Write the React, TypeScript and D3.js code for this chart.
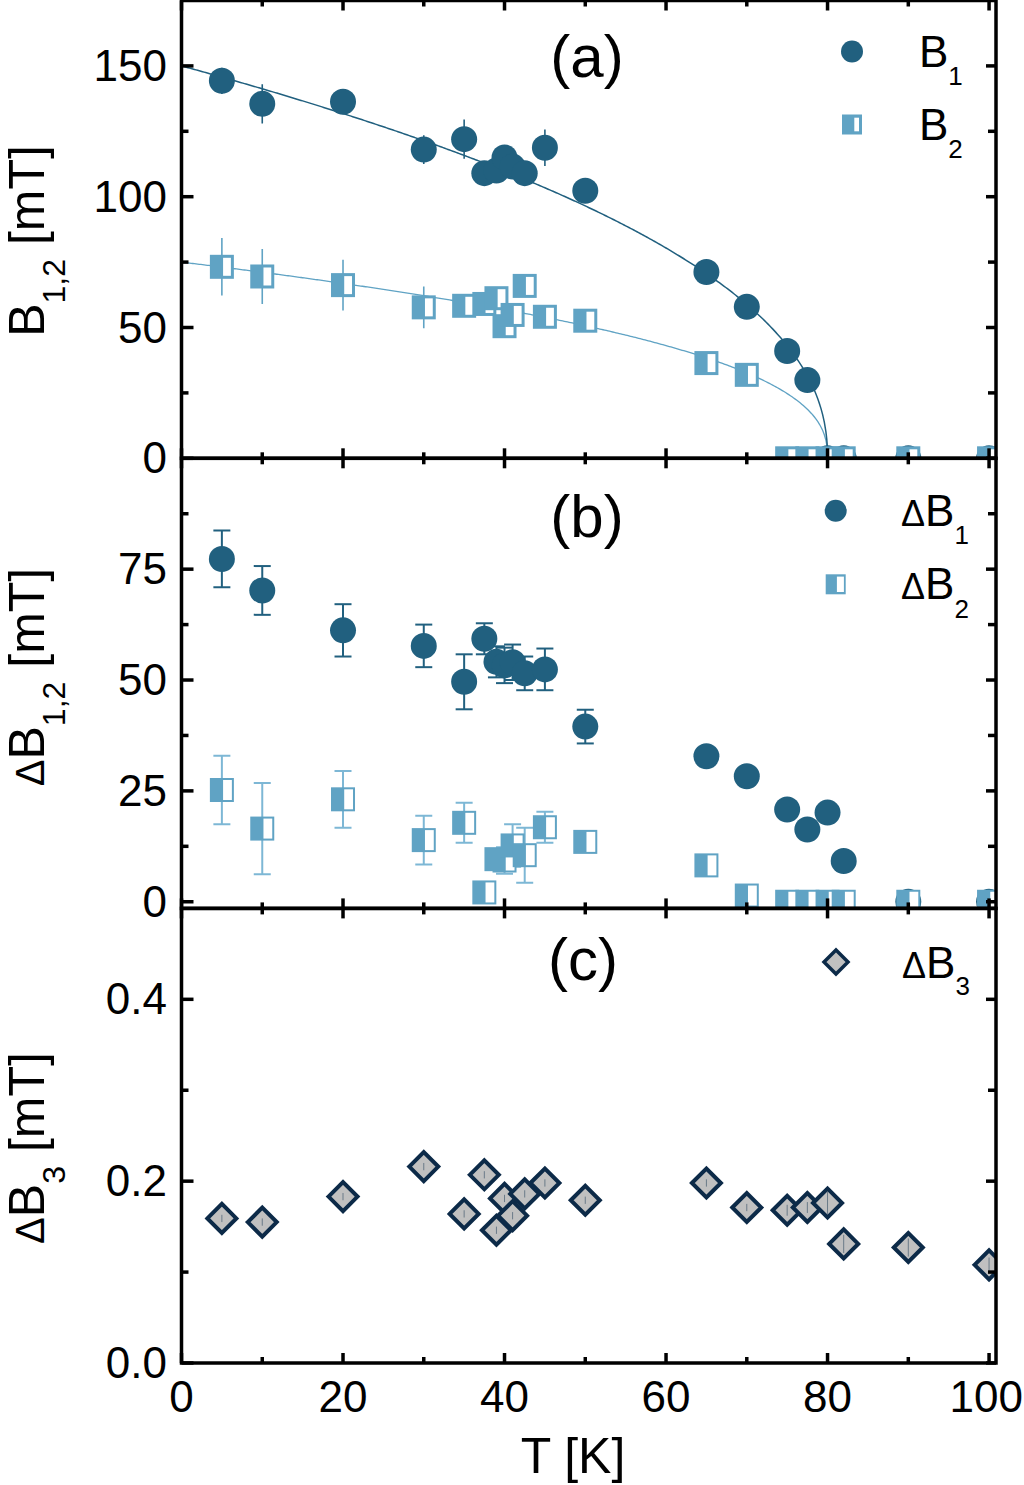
import React from 'react';
import * as d3 from 'd3';

// ---------- data ----------
const T = [5, 10, 20, 30, 35, 37.5, 39, 40, 41, 42.5, 45, 50, 65, 70, 75, 77.5, 80, 82, 90, 100];
const B1 = [144.3, 135.5, 136.3, 118, 122, 109, 110, 115, 111.5, 109, 118.7, 102.3, 71.2, 57.9, 41, 29.9, 0, 0, 0, 0];
const B1_ERR = [5, 7.5, 4, 5.5, 7.5, 4, 4, 4, 4, 4, 7, 4, 3, 3, 3, 3, 0, 0, 0, 0];
const B2 = [73.2, 69.5, 66.2, 57.7, 58.3, 59, 61.2, 50.5, 54.8, 65.9, 54.1, 52.6, 36.4, 31.9, 0, 0, 0, 0, 0, 0];
const B2_ERR = [11, 10.5, 9.7, 8, 4, 4, 4, 4, 4, 4, 4, 4, 3, 3, 0, 0, 0, 0, 0, 0];
const DB1 = [77.3, 70.2, 61.2, 57.7, 49.6, 59.3, 54.1, 53.3, 54, 51.5, 52.4, 39.5, 32.8, 28.3, 20.8, 16.3, 20.1, 9.2, 0, 0];
const DB1_ERR = [6.4, 5.5, 5.9, 4.8, 6.2, 3.5, 3.5, 4, 4, 3.8, 4.7, 3.8, 1, 1, 1, 1, 1, 1, 0, 0];
const DB2 = [25.2, 16.5, 23.1, 13.9, 17.8, 2.1, 9.6, 9.3, 12.7, 10.5, 16.8, 13.5, 8.2, 1.4, 0, 0, 0, 0, 0, 0];
const DB2_ERR = [7.7, 10.3, 6.4, 5.5, 4.5, 1, 2, 3, 4.8, 6.2, 3.5, 2, 1, 1, 0, 0, 0, 0, 0, 0];
const DB3 = [0.159, 0.155, 0.183, 0.216, 0.164, 0.207, 0.146, 0.181, 0.162, 0.186, 0.198, 0.179, 0.198, 0.171, 0.168, 0.171, 0.176, 0.131, 0.127, 0.108];
const DB3_ERR = [0.004, 0.004, 0.004, 0.004, 0.004, 0.004, 0.004, 0.004, 0.004, 0.004, 0.004, 0.004, 0.004, 0.004, 0.006, 0.006, 0.012, 0.01, 0.01, 0.008];

// fit parameters: [B(0), Tc, alpha, beta]  B = B0 (1 - (T/Tc)^alpha)^beta
const FIT_B1 = [150, 80, 1, 0.45];
const FIT_B2 = [75, 80, 1, 0.4];

const X_MAJOR = [0, 20, 40, 60, 80, 100];
const X_MINOR = [10, 30, 50, 70, 90];

const DARK = '#21607f';
const LIGHT = '#60a3c4';
const LIGHT_ERR = '#7db7d5';
const DIAM_STROKE = '#0c2a48';
const DIAM_FILL = '#c0c0c0';
const FONT = '"Liberation Sans", Arial, Helvetica, sans-serif';

const X0 = 181.5;
const X1 = 996;
const x = d3.scaleLinear().domain([0, 100.86]).range([X0, X1]);

const yA = d3.scaleLinear().domain([0, 175]).range([458.3, 0.5]);
const yB = d3.scaleLinear().domain([-1.5, 100]).range([908.4, 458.3]);
const yC = d3.scaleLinear().domain([0, 0.5]).range([1363, 908.4]);

const panels = [
  { id: 'a', y: yA, major: [0, 50, 100, 150], minor: [25, 75, 125], fmt: (d: number) => String(d) },
  { id: 'b', y: yB, major: [0, 25, 50, 75], minor: [12.5, 37.5, 62.5, 87.5], fmt: (d: number) => String(d) },
  { id: 'c', y: yC, major: [0, 0.2, 0.4], minor: [0.1, 0.3], fmt: d3.format('.1f') },
];

function fitCurve(p: number[]) {
  const [b0, tc, a, b] = p;
  const ts = d3.range(0, tc - 0.2, 0.2).concat([tc - 0.2, tc - 0.1, tc - 0.05, tc - 0.02, tc - 0.005, tc]);
  return ts.map((t) => [t, b0 * Math.pow(Math.max(0, 1 - Math.pow(t / tc, a)), b)] as [number, number]);
}

function HalfSquare({ cx, cy, s, inset }: { cx: number; cy: number; s: number; inset: number }) {
  const h = s / 2;
  return (
    <g>
      <rect x={cx - h} y={cy - h} width={s} height={s} fill={LIGHT} />
      <rect x={cx + 1.2} y={cy - h + inset} width={h - inset - 1.2} height={s - 2 * inset} fill="#fff" />
    </g>
  );
}

function Frame({ p }: { p: any }) {
  const [yb, yt] = p.y.range();
  const lw = 3.5;
  const els: any[] = [];
  X_MAJOR.forEach((v, i) => {
    const xx = x(v);
    els.push(<line key={'xb' + i} x1={xx} x2={xx} y1={yb} y2={yb - 10} />);
    els.push(<line key={'xt' + i} x1={xx} x2={xx} y1={yt} y2={yt + 10} />);
  });
  X_MINOR.forEach((v, i) => {
    const xx = x(v);
    els.push(<line key={'xbm' + i} x1={xx} x2={xx} y1={yb} y2={yb - 6} />);
    els.push(<line key={'xtm' + i} x1={xx} x2={xx} y1={yt} y2={yt + 6} />);
  });
  p.major.forEach((v: number, i: number) => {
    const yy = p.y(v);
    els.push(<line key={'yl' + i} x1={X0} x2={X0 + 12} y1={yy} y2={yy} />);
    els.push(<line key={'yr' + i} x1={X1} x2={X1 - 10} y1={yy} y2={yy} />);
  });
  p.minor.forEach((v: number, i: number) => {
    const yy = p.y(v);
    els.push(<line key={'ylm' + i} x1={X0} x2={X0 + 7} y1={yy} y2={yy} />);
    els.push(<line key={'yrm' + i} x1={X1} x2={X1 - 8} y1={yy} y2={yy} />);
  });
  return (
    <g stroke="#000" strokeWidth={lw} fill="none">
      {els}
      <rect x={X0} y={yt} width={X1 - X0} height={yb - yt} />
    </g>
  );
}

function ErrBars({ ys, errs, yScale, color, cap, width }: any) {
  return (
    <g stroke={color} strokeWidth={width} fill="none">
      {T.map((t, i) => {
        if (!errs[i]) return null;
        const xx = x(t);
        const y1 = yScale(ys[i] - errs[i]);
        const y2 = yScale(ys[i] + errs[i]);
        return (
          <g key={i}>
            <line x1={xx} x2={xx} y1={y1} y2={y2} />
            {cap ? <line x1={xx - cap} x2={xx + cap} y1={y1} y2={y1} /> : null}
            {cap ? <line x1={xx - cap} x2={xx + cap} y1={y2} y2={y2} /> : null}
          </g>
        );
      })}
    </g>
  );
}

export default function App() {
  const lineA = d3
    .line<[number, number]>()
    .x((d) => x(d[0]))
    .y((d) => yA(d[1]));

  const clipRect = (id: string, ys: any) => {
    const [yb, yt] = ys.range();
    return (
      <clipPath id={'clip-' + id} key={id}>
        <rect x={X0} y={yt} width={X1 - X0} height={yb - yt} />
      </clipPath>
    );
  };

  const tickFont = 44;

  return (
    <svg
      width={1024}
      height={1485}
      style={{ position: 'absolute', left: 0, top: 0, display: 'block', background: '#fff' }}
      fontFamily={FONT}
    >
      <defs>{panels.map((p) => clipRect(p.id, p.y))}</defs>
      <rect x={0} y={0} width={1024} height={1485} fill="#fff" />

      {/* Panel (a) */}
      <g clipPath="url(#clip-a)">
        <path d={lineA(fitCurve(FIT_B2)) || ''} stroke={LIGHT} strokeWidth={1.3} fill="none" />
        <path d={lineA(fitCurve(FIT_B1)) || ''} stroke={DARK} strokeWidth={1.5} fill="none" />
        <ErrBars ys={B1} errs={B1_ERR} yScale={yA} color={DARK} cap={0} width={1.6} />
        {T.map((t, i) => (
          <circle key={'b1' + i} cx={x(t)} cy={yA(B1[i])} r={13} fill={DARK} />
        ))}
        <ErrBars ys={B2} errs={B2_ERR} yScale={yA} color={LIGHT} cap={0} width={1.6} />
        {T.map((t, i) => (
          <HalfSquare key={'b2' + i} cx={x(t)} cy={yA(B2[i])} s={24} inset={3} />
        ))}
      </g>

      {/* Panel (b) */}
      <g clipPath="url(#clip-b)">
        <ErrBars ys={DB1} errs={DB1_ERR} yScale={yB} color={DARK} cap={8.5} width={2} />
        {T.map((t, i) => (
          <circle key={'db1' + i} cx={x(t)} cy={yB(DB1[i])} r={13} fill={DARK} />
        ))}
        <ErrBars ys={DB2} errs={DB2_ERR} yScale={yB} color={LIGHT_ERR} cap={8.5} width={2} />
        {T.map((t, i) => (
          <HalfSquare key={'db2' + i} cx={x(t)} cy={yB(DB2[i])} s={24} inset={2} />
        ))}
      </g>

      {/* Panel (c) */}
      <g clipPath="url(#clip-c)">
        {T.map((t, i) => {
          const cx = x(t);
          const cy = yC(DB3[i]);
          const h = 14.5;
          return (
            <path
              key={'db3' + i}
              d={`M${cx - h},${cy}L${cx},${cy - h}L${cx + h},${cy}L${cx},${cy + h}Z`}
              fill={DIAM_FILL}
              stroke={DIAM_STROKE}
              strokeWidth={4}
              strokeLinejoin="miter"
            />
          );
        })}
        <ErrBars ys={DB3} errs={DB3_ERR} yScale={yC} color="#6a7a88" cap={0} width={1} />
      </g>

      {panels.map((p) => (
        <Frame key={'f' + p.id} p={p} />
      ))}

      {/* y tick labels */}
      {panels.map((p) =>
        p.major.map((v: number, i: number) => (
          <text
            key={'yl' + p.id + i}
            x={167}
            y={p.y(v) + 15}
            textAnchor="end"
            fontSize={tickFont}
            fill="#000"
          >
            {p.fmt(v)}
          </text>
        ))
      )}

      {/* x tick labels */}
      {X_MAJOR.map((v, i) => (
        <text
          key={'xl' + i}
          x={Math.min(x(v), 1023 - (tickFont * 0.556 * String(v).length) / 2)}
          y={1412}
          textAnchor="middle"
          fontSize={tickFont}
          fill="#000"
        >
          {v}
        </text>
      ))}

      {/* axis titles */}
      <text x={573} y={1473} textAnchor="middle" fontSize={50} fill="#000">
        T [K]
      </text>
      <text transform="translate(44,241) rotate(-90)" textAnchor="middle" fontSize={50} fill="#000">
        <tspan>B</tspan>
        <tspan fontSize={32} dy={21}>1,2</tspan>
        <tspan dy={-21}>{'\u00A0[mT]'}</tspan>
      </text>
      <text transform="translate(44,677) rotate(-90)" textAnchor="middle" fontSize={50} fill="#000">
        <tspan fontSize={40}>Δ</tspan>
        <tspan>B</tspan>
        <tspan fontSize={32} dy={21}>1,2</tspan>
        <tspan dy={-21}>{'\u00A0[mT]'}</tspan>
      </text>
      <text transform="translate(44,1148) rotate(-90)" textAnchor="middle" fontSize={50} fill="#000">
        <tspan fontSize={40}>Δ</tspan>
        <tspan>B</tspan>
        <tspan fontSize={32} dy={21}>3</tspan>
        <tspan dy={-21}>{'\u00A0[mT]'}</tspan>
      </text>

      {/* panel labels */}
      <text x={587} y={77} textAnchor="middle" fontSize={60} fill="#000">(a)</text>
      <text x={587} y={537} textAnchor="middle" fontSize={60} fill="#000">(b)</text>
      <text x={583} y={980} textAnchor="middle" fontSize={60} fill="#000">(c)</text>

      {/* legend (a) */}
      <circle cx={852} cy={51.5} r={11} fill={DARK} />
      <text x={919} y={67} fontSize={44} fill="#000">
        <tspan>B</tspan>
        <tspan fontSize={26} dy={18}>1</tspan>
      </text>
      <g>
        <rect x={842} y={114.5} width={20} height={20} fill={LIGHT} />
        <rect x={854.3} y={117.7} width={4.7} height={13.6} fill="#fff" />
      </g>
      <text x={919} y={140} fontSize={44} fill="#000">
        <tspan>B</tspan>
        <tspan fontSize={26} dy={18}>2</tspan>
      </text>

      {/* legend (b) */}
      <circle cx={835.7} cy={510.7} r={11} fill={DARK} />
      <text x={901} y={526} fontSize={44} fill="#000">
        <tspan fontSize={36}>Δ</tspan>
        <tspan>B</tspan>
        <tspan fontSize={26} dy={18}>1</tspan>
      </text>
      <g>
        <rect x={825.7} y={574.3} width={20} height={20} fill={LIGHT} />
        <rect x={836.9} y={576.6} width={7} height={15.4} fill="#fff" />
      </g>
      <text x={901} y={599} fontSize={44} fill="#000">
        <tspan fontSize={36}>Δ</tspan>
        <tspan>B</tspan>
        <tspan fontSize={26} dy={19}>2</tspan>
      </text>

      {/* legend (c) */}
      <path d={`M${836 - 12},962L836,${962 - 12}L${836 + 12},962L836,${962 + 12}Z`} fill={DIAM_FILL} stroke={DIAM_STROKE} strokeWidth={3.5} />
      <text x={902} y={978} fontSize={44} fill="#000">
        <tspan fontSize={36}>Δ</tspan>
        <tspan>B</tspan>
        <tspan fontSize={26} dy={17}>3</tspan>
      </text>
    </svg>
  );
}
